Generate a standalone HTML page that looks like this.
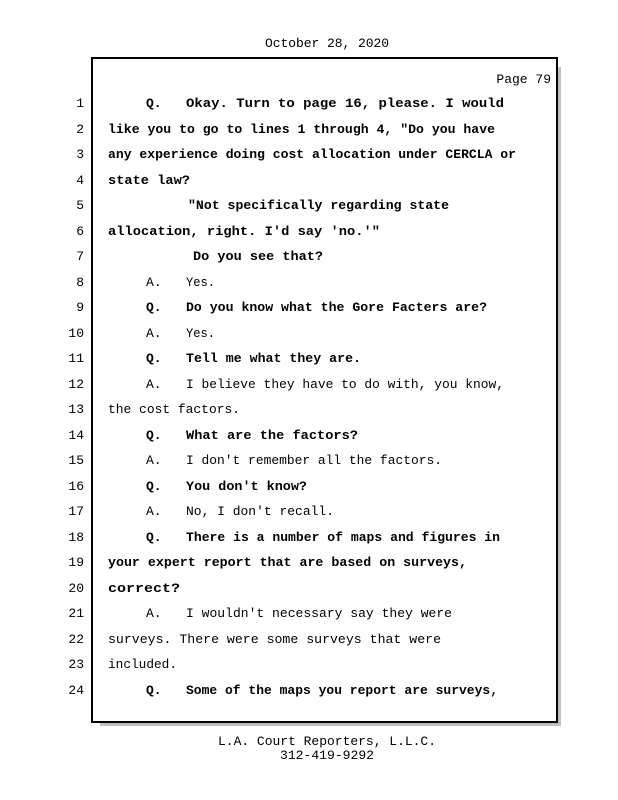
<!DOCTYPE html>
<html><head><meta charset="utf-8"><style>
html,body{margin:0;padding:0;background:#fff;}
svg{display:block;}
text{font-family:"Liberation Mono",monospace;font-size:13px;fill:#000;}
.b{font-weight:bold;}
</style></head><body>
<svg width="618" height="800" viewBox="0 0 618 800" xmlns="http://www.w3.org/2000/svg">
<rect x="557" y="67" width="4" height="659" fill="#c0c0c0"/>
<rect x="100" y="722" width="461" height="4" fill="#c0c0c0"/>
<rect x="92" y="58" width="465" height="664" fill="#fff" stroke="#000" stroke-width="2"/>
<text x="327" y="47" text-anchor="middle" textLength="124">October 28, 2020</text>
<text x="551" y="83" text-anchor="end">Page 79</text>
<g text-anchor="end">
<text x="84" y="107">1</text><text x="84" y="133">2</text><text x="84" y="158">3</text><text x="84" y="184">4</text>
<text x="84" y="209">5</text><text x="84" y="235">6</text><text x="84" y="260">7</text><text x="84" y="286">8</text>
<text x="84" y="311">9</text><text x="84" y="337">10</text><text x="84" y="362">11</text><text x="84" y="388">12</text>
<text x="84" y="413">13</text><text x="84" y="439">14</text><text x="84" y="464">15</text><text x="84" y="490">16</text>
<text x="84" y="515">17</text><text x="84" y="541">18</text><text x="84" y="566">19</text><text x="84" y="592">20</text>
<text x="84" y="617">21</text><text x="84" y="643">22</text><text x="84" y="668">23</text><text x="84" y="694">24</text>
</g>
<g class="b">
<text x="146" y="107">Q.</text><text x="186" y="107" textLength="318" lengthAdjust="spacingAndGlyphs">Okay. Turn to page 16, please. I would</text>
<text x="108" y="133" textLength="387" lengthAdjust="spacingAndGlyphs">like you to go to lines 1 through 4, "Do you have</text>
<text x="108" y="158" textLength="408" lengthAdjust="spacingAndGlyphs">any experience doing cost allocation under CERCLA or</text>
<text x="108" y="184" textLength="82" lengthAdjust="spacingAndGlyphs">state law?</text>
<text x="188" y="209" textLength="261" lengthAdjust="spacingAndGlyphs">"Not specifically regarding state</text>
<text x="108" y="235" textLength="272" lengthAdjust="spacingAndGlyphs">allocation, right. I'd say 'no.'"</text>
<text x="193" y="260" textLength="130" lengthAdjust="spacingAndGlyphs">Do you see that?</text>
<text x="146" y="311">Q.</text><text x="186" y="311" textLength="301" lengthAdjust="spacingAndGlyphs">Do you know what the Gore Facters are?</text>
<text x="146" y="362">Q.</text><text x="186" y="362" textLength="175" lengthAdjust="spacingAndGlyphs">Tell me what they are.</text>
<text x="146" y="439">Q.</text><text x="186" y="439" textLength="172" lengthAdjust="spacingAndGlyphs">What are the factors?</text>
<text x="146" y="490">Q.</text><text x="186" y="490" textLength="121" lengthAdjust="spacingAndGlyphs">You don't know?</text>
<text x="146" y="541">Q.</text><text x="186" y="541" textLength="314" lengthAdjust="spacingAndGlyphs">There is a number of maps and figures in</text>
<text x="108" y="566" textLength="359" lengthAdjust="spacingAndGlyphs">your expert report that are based on surveys,</text>
<text x="108" y="592" textLength="72" lengthAdjust="spacingAndGlyphs">correct?</text>
<text x="146" y="694">Q.</text><text x="186" y="694" textLength="312" lengthAdjust="spacingAndGlyphs">Some of the maps you report are surveys,</text>
</g>
<g>
<text x="146" y="286">A.</text><text x="186" y="286" textLength="29" lengthAdjust="spacingAndGlyphs">Yes.</text>
<text x="146" y="337">A.</text><text x="186" y="337" textLength="29" lengthAdjust="spacingAndGlyphs">Yes.</text>
<text x="146" y="388">A.</text><text x="186" y="388" textLength="318" lengthAdjust="spacingAndGlyphs">I believe they have to do with, you know,</text>
<text x="108" y="413" textLength="132" lengthAdjust="spacingAndGlyphs">the cost factors.</text>
<text x="146" y="464">A.</text><text x="186" y="464" textLength="256" lengthAdjust="spacingAndGlyphs">I don't remember all the factors.</text>
<text x="146" y="515">A.</text><text x="186" y="515" textLength="148" lengthAdjust="spacingAndGlyphs">No, I don't recall.</text>
<text x="146" y="617">A.</text><text x="186" y="617" textLength="266" lengthAdjust="spacingAndGlyphs">I wouldn't necessary say they were</text>
<text x="108" y="643" textLength="333" lengthAdjust="spacingAndGlyphs">surveys.  There were some surveys that were</text>
<text x="108" y="668" textLength="69" lengthAdjust="spacingAndGlyphs">included.</text>
</g>
<text x="327" y="745" text-anchor="middle" textLength="218" lengthAdjust="spacingAndGlyphs">L.A. Court Reporters, L.L.C.</text>
<text x="327" y="759" text-anchor="middle" textLength="94" lengthAdjust="spacingAndGlyphs">312-419-9292</text>
</svg>
</body></html>
